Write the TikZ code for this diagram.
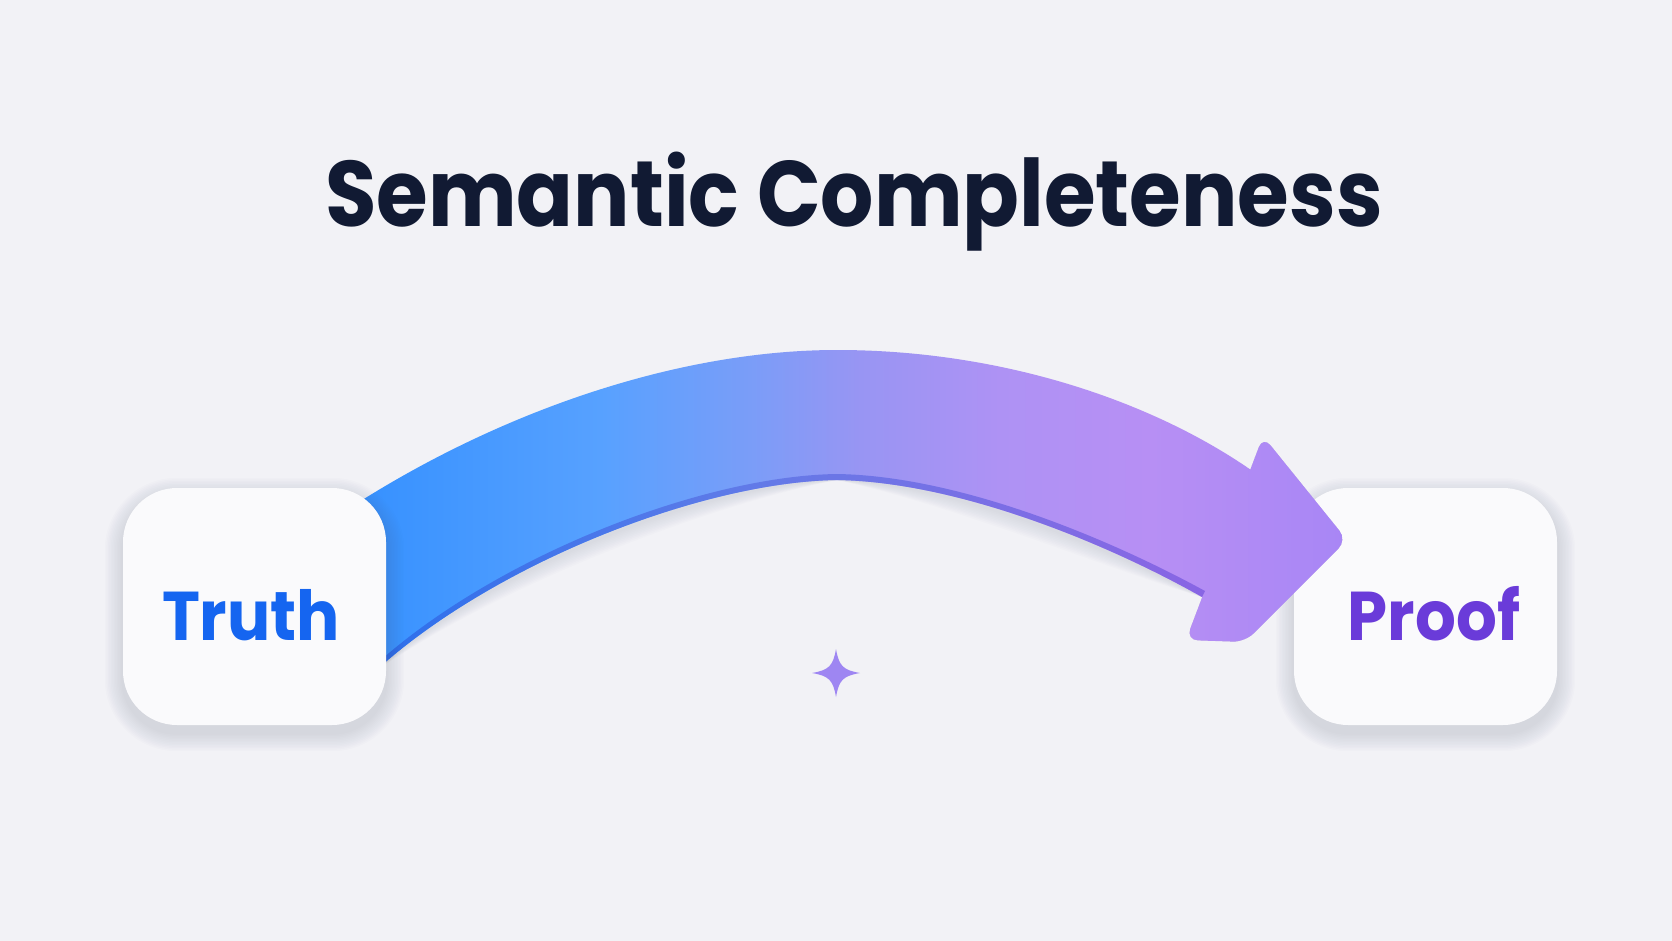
\documentclass[tikz,border=0pt]{standalone}
\usepackage{fontspec}
\setmainfont{Poppins}[RawFeature={-liga;-dlig}]
\definecolor{bg}{HTML}{F2F2F6}
\definecolor{boxc}{HTML}{FAFAFC}
\definecolor{titlec}{HTML}{111A33}
\definecolor{truthc}{HTML}{1565F0}
\definecolor{proofc}{HTML}{6A3BD9}
\definecolor{starc}{HTML}{9E86F2}
\definecolor{shadc}{HTML}{3A3F6A}
\definecolor{g1}{HTML}{3490FF}
\definecolor{g2}{HTML}{57A1FF}
\definecolor{g3}{HTML}{7A9DF8}
\definecolor{g4}{HTML}{9895F3}
\definecolor{g5}{HTML}{AE92F4}
\definecolor{g6}{HTML}{B78FF4}
\definecolor{g7}{HTML}{A886F5}
\definecolor{r1}{HTML}{2A66E6}
\definecolor{r2}{HTML}{5C72E4}
\definecolor{r3}{HTML}{7E5CE0}
\pgfdeclarehorizontalshading{arrowgrad}{100bp}{color(0bp)=(g1); color(25bp)=(g1); color(37.75bp)=(g2); color(45.25bp)=(g3); color(50.75bp)=(g4); color(57.75bp)=(g5); color(65.25bp)=(g6); color(75bp)=(g7); color(100bp)=(g7)}
\pgfdeclarehorizontalshading{rimgrad}{100bp}{color(0bp)=(r1); color(25bp)=(r1); color(48bp)=(r2); color(75bp)=(r3); color(100bp)=(r3)}
\pgfdeclarelayer{back}
\pgfdeclarelayer{frontshadow}
\pgfdeclarelayer{front}
\pgfsetlayers{back,main,frontshadow,front}
\tikzset{
  box/.style={fill=boxc, rounded corners=54pt,
    minimum width=263pt, minimum height=237pt, inner sep=0pt},
  lbl/.style={anchor=base, font=\fontsize{69}{79}\selectfont\bfseries},
}
\newcommand{\softshadow}[1]{%
  \foreach \e in {1,...,12}{
    \fill[shadc, opacity=0.011, rounded corners={54pt+\e*1.5pt}]
      ([xshift=-\e*1.5pt, yshift=-\e*1.5pt-8pt]#1.south west) rectangle ([xshift=\e*1.5pt, yshift=\e*1.5pt-8pt]#1.north east);
  }}
\begin{document}
\begin{tikzpicture}[x=1pt,y=-1pt]
\begin{pgfonlayer}{back}
\useasboundingbox (0,0) rectangle (1672,941);
\fill[bg] (0,0) rectangle (1672,941);
\end{pgfonlayer}

\node[anchor=base, text=titlec, font=\fontsize{93}{103}\selectfont\bfseries] (title) at (854,227) {\scalebox{0.9}[1]{Semantic Completeness}};

% Proof box (under the arrowhead)
\node[box] (proofbox) at (1425.5,606.5) {};
\begin{pgfonlayer}{back}\softshadow{proofbox}\end{pgfonlayer}
\node[lbl, text=proofc] (prooflbl) at (1434,640) {\scalebox{0.93}[1]{Proof}};

% arrow geometry
\coordinate (s0) at (345,511);
\coordinate (peakout) at (837,350);
\coordinate (b) at (1251,470);
\coordinate (c) at (1202,597);
\coordinate (peakin) at (837,480);
\coordinate (d0) at (372,674);
\coordinate (htop) at (1263,436);
\coordinate (htip) at (1347,540);
\coordinate (hbr) at (1245,642);
\coordinate (hbl) at (1186,640);

\def\shaftpath{(s0) .. controls (500,410) and (680,350) .. (peakout) .. controls (1000,350) and (1150,400) .. (b) -- (1285,540) -- (c) .. controls (1110,545) and (960,482) .. (peakin) .. controls (700,482) and (490,565) .. (d0) -- (330,600) -- cycle}
\def\headpath{(htop) -- (htip) -- (hbr) -- (hbl) -- cycle}

% soft shadows of the arrow
\foreach \k in {1,...,10}{
  \fill[shadc, opacity=0.010, yshift={-3pt-\k*2.2pt}] \shaftpath;
  \fill[shadc, opacity=0.012, rounded corners=12pt, yshift={-2pt-\k*1.2pt}, xshift={\k*0.4pt}] \headpath;
}

\begin{scope}
  \clip \shaftpath;
  \shade[shading=arrowgrad] (345,300) rectangle (1345,700);
\end{scope}
\begin{scope}
  \clip[rounded corners=12pt] \headpath;
  \shade[shading=arrowgrad] (345,300) rectangle (1345,700);
\end{scope}
% darker rim along the inner edge
\shade[shading=rimgrad, opacity=0.8] (c) .. controls (1110,545) and (960,482) .. (peakin) .. controls (700,482) and (490,565) .. (d0)
  -- (372,668) .. controls (490,559) and (700,476) .. (837,474) .. controls (960,476) and (1110,539) .. (1205,591) -- cycle;

% Truth box (above the arrow's tail)
\begin{pgfonlayer}{front}
\node[box] (truthbox) at (254.5,606.5) {};
\node[lbl, text=truthc] (truthlbl) at (251,640) {\scalebox{0.93}[1]{Truth}};
\end{pgfonlayer}
\begin{pgfonlayer}{frontshadow}\softshadow{truthbox}\end{pgfonlayer}

% sparkle
\coordinate (sp) at (836,673);
\fill[starc] ([yshift=24pt]sp) .. controls ([xshift=3pt,yshift=7pt]sp) and ([xshift=7pt,yshift=3pt]sp) .. ([xshift=24pt]sp)
  .. controls ([xshift=7pt,yshift=-3pt]sp) and ([xshift=3pt,yshift=-7pt]sp) .. ([yshift=-24pt]sp)
  .. controls ([xshift=-3pt,yshift=-7pt]sp) and ([xshift=-7pt,yshift=-3pt]sp) .. ([xshift=-24pt]sp)
  .. controls ([xshift=-7pt,yshift=3pt]sp) and ([xshift=-3pt,yshift=7pt]sp) .. cycle;
\end{tikzpicture}
\end{document}
